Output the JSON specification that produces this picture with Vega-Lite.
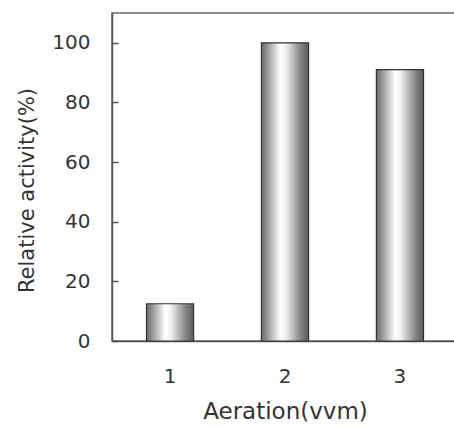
{
  "$schema": "https://vega.github.io/schema/vega-lite/v6.json",
  "autosize": "none",
  "padding": {"left": 112, "top": 13, "right": 0, "bottom": 87},
  "width": 346,
  "height": 328,
  "config": {
    "view": {"stroke": "#666", "strokeWidth": 1.5},
    "font": "DejaVu Sans"
  },
  "data": {"values": [
    {"aeration": "1", "activity": 12.5},
    {"aeration": "2", "activity": 100},
    {"aeration": "3", "activity": 91}
  ]},
  "mark": {
    "type": "bar",
    "stroke": "#333",
    "strokeWidth": 1.2,
    "color": {
      "gradient": "linear",
      "x1": 0, "x2": 1, "y1": 0, "y2": 0,
      "stops": [
        {"offset": 0, "color": "#6a6a6a"},
        {"offset": 0.15, "color": "#a0a0a0"},
        {"offset": 0.4, "color": "#ffffff"},
        {"offset": 0.52, "color": "#f0f0f0"},
        {"offset": 0.8, "color": "#8e8e8e"},
        {"offset": 1, "color": "#5a5a5a"}
      ]
    }
  },
  "encoding": {
    "x": {
      "field": "aeration", "type": "ordinal",
      "scale": {"paddingInner": 0.59, "paddingOuter": 0.3},
      "axis": {
        "title": "Aeration(vvm)", "labelAngle": 0, "ticks": false,
        "domainColor": "#555", "domainWidth": 1.5,
        "labelFontSize": 20, "labelColor": "#333", "labelPadding": 25,
        "titleFontSize": 23, "titleFontWeight": "normal", "titleColor": "#333", "titlePadding": 14
      }
    },
    "y": {
      "field": "activity", "type": "quantitative",
      "scale": {"domain": [0, 110], "nice": false},
      "axis": {
        "title": "Relative activity(%)", "values": [0, 20, 40, 60, 80, 100],
        "grid": false, "tickSize": -6, "tickColor": "#555", "tickWidth": 1.5,
        "domainColor": "#555", "domainWidth": 1.5,
        "labelFontSize": 20, "labelColor": "#333", "labelPadding": 28,
        "titleFontSize": 21, "titleFontWeight": "normal", "titleColor": "#333", "titlePadding": 14,
        "titleY": 177
      }
    }
  }
}
